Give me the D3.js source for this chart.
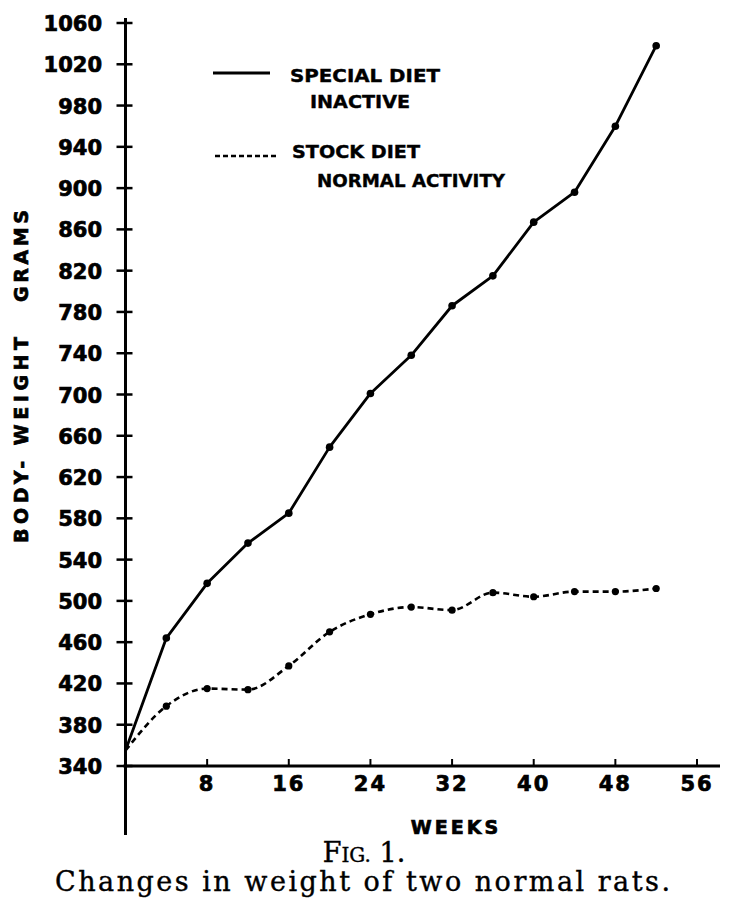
<!DOCTYPE html>
<html><head><meta charset="utf-8">
<script src="https://cdn.jsdelivr.net/npm/d3@7"></script>
<style>
html,body{margin:0;padding:0;background:#fff;}
svg{display:block;}
</style></head>
<body>
<svg id="chart" width="735" height="915"></svg>
<script>
// ---- data ----
const weeks = [0, 4, 8, 12, 16, 20, 24, 28, 32, 36, 40, 44, 48, 52];
const specialDiet = [355, 464, 517, 556, 585, 649, 701, 738, 786, 815, 867, 896, 960, 1038];
const stockDiet = [355, 398, 415, 414, 437, 470, 487, 494, 491, 508, 504, 509, 509, 512];
const yTickValues = [340, 380, 420, 460, 500, 540, 580, 620, 660, 700, 740, 780, 820, 860, 900, 940, 980, 1020, 1060];
const xTickValues = [8, 16, 24, 32, 40, 48, 56];
const legendLabels = [["SPECIAL DIET", "INACTIVE"], ["STOCK DIET", "NORMAL ACTIVITY"]];

const svg = d3.select("#chart");
svg.append("rect").attr("width", 735).attr("height", 915).attr("fill", "#fff");

const x = d3.scaleLinear().domain([0, 56]).range([125.5, 697]);
const y = d3.scaleLinear().domain([340, 1060]).range([766, 23]);

const sans = "'DejaVu Sans', sans-serif";
const x0 = x(0);
function heavy(sel) {
  return sel.attr("font-family", sans).attr("font-weight", "bold")
    .attr("stroke", "#000").attr("stroke-width", 0.7).attr("fill", "#000");
}

// axes lines
svg.append("line").attr("x1", x0).attr("x2", x0).attr("y1", 18).attr("y2", 835)
  .attr("stroke", "#000").attr("stroke-width", 3);
svg.append("line").attr("x1", x0 - 2).attr("x2", 720).attr("y1", y(340)).attr("y2", y(340))
  .attr("stroke", "#000").attr("stroke-width", 3);

// y ticks
const yt = svg.append("g");
yt.selectAll("line").data(yTickValues).join("line")
  .attr("x1", x0 - 9).attr("x2", x0 + 7)
  .attr("y1", d => y(d)).attr("y2", d => y(d))
  .attr("stroke", "#000").attr("stroke-width", 2.5);
heavy(yt.selectAll("text").data(yTickValues).join("text"))
  .attr("x", 102).attr("y", d => y(d) + 8)
  .attr("text-anchor", "end")
  .attr("font-size", 21)
  .text(d => d);

// x ticks
const xt = svg.append("g");
xt.selectAll("line").data(xTickValues).join("line")
  .attr("x1", d => x(d)).attr("x2", d => x(d))
  .attr("y1", y(340)).attr("y2", y(340) - 7)
  .attr("stroke", "#000").attr("stroke-width", 2);
heavy(xt.selectAll("text").data(xTickValues).join("text"))
  .attr("x", d => x(d)).attr("y", 791)
  .attr("text-anchor", "middle")
  .attr("font-size", 21)
  .attr("letter-spacing", 2)
  .text(d => d);

// axis titles
heavy(svg.append("text")).attr("x", 456).attr("y", 834).attr("text-anchor", "middle")
  .attr("font-size", 19).attr("letter-spacing", 3).text("WEEKS");

const yl = svg.append("g").attr("transform", "translate(28,0) rotate(-90)");
heavy(yl.append("text")).attr("x", -543).attr("y", 0)
  .attr("font-size", 19).attr("textLength", 206).text("BODY- WEIGHT");
heavy(yl.append("text")).attr("x", -302).attr("y", 0)
  .attr("font-size", 19).attr("textLength", 92).text("GRAMS");

// lines
const special = weeks.map((w, i) => [w, specialDiet[i]]);
const stock = weeks.map((w, i) => [w, stockDiet[i]]);
const lineLin = d3.line().x(d => x(d[0])).y(d => y(d[1]));
const lineSmooth = d3.line().x(d => x(d[0])).y(d => y(d[1])).curve(d3.curveMonotoneX);

svg.append("path").attr("d", lineLin(special)).attr("fill", "none")
  .attr("stroke", "#000").attr("stroke-width", 2.8).attr("stroke-linejoin", "round");
svg.append("path").attr("d", lineSmooth(stock)).attr("fill", "none")
  .attr("stroke", "#000").attr("stroke-width", 2.6).attr("stroke-dasharray", "6,4");

svg.append("g").selectAll("circle").data(special.slice(1)).join("circle")
  .attr("cx", d => x(d[0])).attr("cy", d => y(d[1])).attr("r", 3.8).attr("fill", "#000");
svg.append("g").selectAll("circle").data(stock.slice(1)).join("circle")
  .attr("cx", d => x(d[0])).attr("cy", d => y(d[1])).attr("r", 3.6).attr("fill", "#000");

// legend
const lg = svg.append("g");
lg.append("line").attr("x1", 213).attr("x2", 270).attr("y1", 73).attr("y2", 73)
  .attr("stroke", "#000").attr("stroke-width", 2.8);
lg.append("line").attr("x1", 215).attr("x2", 278).attr("y1", 156).attr("y2", 156)
  .attr("stroke", "#000").attr("stroke-width", 2.4).attr("stroke-dasharray", "5,3");
const legendPos = [[[290, 82, 150], [310, 108, 100]], [[292, 158, 128], [317, 187, 188]]];
legendLabels.forEach((pair, i) => {
  pair.forEach((t, j) => {
    const p = legendPos[i][j];
    heavy(lg.append("text")).attr("x", p[0]).attr("y", p[1])
      .attr("font-size", 18).attr("stroke-width", 0.4)
      .attr("textLength", p[2]).attr("lengthAdjust", "spacingAndGlyphs").text(t);
  });
});

// caption
const serif = "'DejaVu Serif', 'Liberation Serif', serif";
const fig = svg.append("text").attr("x", 364).attr("y", 862).attr("text-anchor", "middle")
  .attr("font-family", serif).attr("font-size", 27)
  .attr("stroke", "#000").attr("stroke-width", 0.4);
fig.append("tspan").text("F");
fig.append("tspan").attr("font-size", 20).text("IG.");
fig.append("tspan").text(" 1.");
svg.append("text").attr("x", 55).attr("y", 891)
  .attr("font-family", serif).attr("font-size", 27)
  .attr("stroke", "#000").attr("stroke-width", 0.4)
  .attr("textLength", 615).text("Changes in weight of two normal rats.");
</script>
</body></html>
